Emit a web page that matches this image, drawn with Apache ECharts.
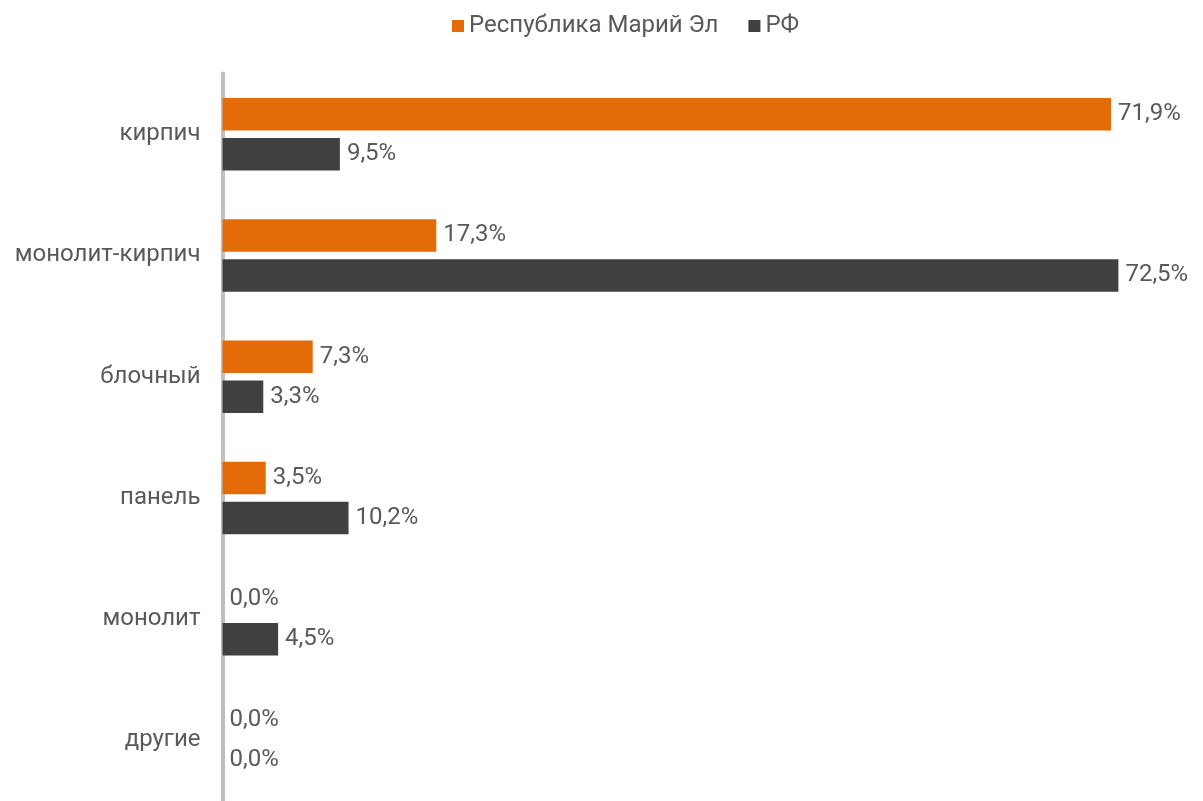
<!DOCTYPE html>
<html>
<head>
<meta charset="utf-8">
<script src="https://cdn.jsdelivr.net/npm/echarts@6/dist/echarts.min.js"></script>
<style>html,body{margin:0;padding:0;background:#fff;}#c{width:1203px;height:801px;}</style>
</head>
<body>
<div id="c"></div>
<script>
var categories = ['кирпич', 'монолит-кирпич', 'блочный', 'панель', 'монолит', 'другие'];
var seriesNames = ['Республика Марий Эл', 'РФ'];
var mariyEl = [71.9, 17.3, 7.3, 3.5, 0.0, 0.0];
var rf = [9.5, 72.5, 3.3, 10.2, 4.5, 0.0];

var chart = echarts.init(document.getElementById('c'));
var textColor = '#595959';
var font = 'Roboto';
function fmt(p) { return p.value.toFixed(1).replace('.', ',') + '%'; }
var labelCfg = { show: true, position: 'right', distance: 7, color: textColor, fontFamily: font, fontSize: 24, formatter: fmt };
chart.setOption({
  animation: false,
  legend: {
    top: 9, left: 447, icon: 'rect', itemWidth: 12, itemHeight: 12, itemGap: 30,
    textStyle: { color: textColor, fontFamily: font, fontSize: 24 },
    data: seriesNames
  },
  grid: { left: 222.5, top: 73.6, width: 926.8, height: 733.2, containLabel: false },
  xAxis: { type: 'value', min: 0, max: 75, show: false },
  yAxis: {
    type: 'category', inverse: true, data: categories, offset: 2,
    axisLine: { show: true, lineStyle: { color: '#BFBFBF', width: 4 } },
    axisTick: { show: false },
    axisLabel: { color: textColor, fontFamily: font, fontSize: 24, margin: 20 }
  },
  series: [
    { name: seriesNames[0], type: 'bar', data: mariyEl, barWidth: 32.5, barGap: '23%', itemStyle: { color: '#E36C09' }, label: labelCfg },
    { name: seriesNames[1], type: 'bar', data: rf, barWidth: 32.5, barGap: '23%', itemStyle: { color: '#404040' }, label: labelCfg }
  ]
});
</script>
</body>
</html>
